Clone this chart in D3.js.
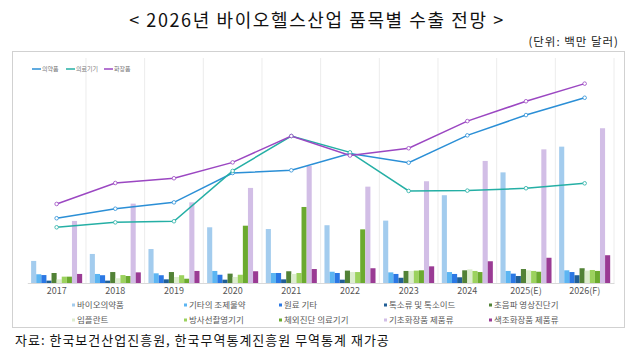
<!DOCTYPE html>
<html><head><meta charset="utf-8">
<script src="https://cdn.jsdelivr.net/npm/d3@7/dist/d3.min.js"></script>
<style>body{margin:0;background:#fff}svg{display:block}</style>
</head><body>
<svg id="chart" width="640" height="356"></svg>
<script>
// ---- data (백만 달러) ----
const years = ["2017","2018","2019","2020","2021","2022","2023","2024","2025(E)","2026(F)"];

const lineNames = ["의약품","의료기기","화장품"];
const pharma    = [4080, 4680, 5080, 6930, 7100, 8160, 7580, 9300, 10580, 11670];
const device    = [3510, 3820, 3890, 7060, 9260, 8230, 5800, 5820, 5970, 6280];
const cosmetics = [4980, 6300, 6600, 7600, 9260, 8030, 8490, 10200, 11450, 12560];

const barNames = ["바이오의약품","기타의 조제물약","원료 기타","톡소류 및 톡소이드","초음파 영상진단기",
                  "임플란트","방사선촬영기기","체외진단 의료기기","기초화장품 제품류","색조화장품 제품류"];
const biopharma  = [1390, 1830, 2140, 3510, 3400, 3640, 3930, 5530, 6970, 8590];
const otherPrep  = [550, 570, 610, 760, 630, 710, 670, 690, 760, 800];
const rawOther   = [500, 490, 490, 520, 630, 630, 570, 570, 590, 690];
const toxoid     = [150, 150, 230, 210, 230, 210, 330, 360, 440, 490];
const ultrasound = [630, 690, 690, 590, 740, 780, 760, 800, 880, 930];
const implant    = [230, 300, 380, 380, 570, 690, 760, 860, 800, 780];
const xray       = [400, 500, 490, 520, 630, 690, 780, 760, 760, 820];
const ivd        = [400, 440, 270, 3610, 4790, 3380, 800, 690, 710, 760];
const skincare   = [3910, 5000, 5080, 5990, 7370, 6070, 6410, 7690, 8420, 9750];
const makeup     = [570, 670, 760, 740, 880, 930, 1050, 1370, 1590, 1750];

const barValues = [biopharma, otherPrep, rawOther, toxoid, ultrasound, implant, xray, ivd, skincare, makeup];
const lineValues = [pharma, device, cosmetics];

// ---- styles ----
const barColors = ["#A3CCEE","#5CB5F2","#2B78E4","#215F96","#528236","#DDEDCF","#9CD25E","#6BAA2F","#D2BEE6","#9A3B94"];
const lineColors = ["#2B8FD6","#25AFA5","#9B47C2"];
const FONT = "'Noto Sans CJK KR','Noto Sans',sans-serif";

const svg = d3.select("#chart").style("font-family", FONT);

// title
svg.append("text").attr("x", 317).attr("y", 27).attr("text-anchor","middle")
  .attr("font-size", 18).attr("fill","#111").attr("letter-spacing", 1.6)
  .text("< 2026년 바이오헬스산업 품목별 수출 전망 >");
svg.append("text").attr("x", 619).attr("y", 46).attr("text-anchor","end")
  .attr("font-size", 11.5).attr("fill","#222").attr("letter-spacing", 1)
  .text("(단위: 백만 달러)");

// dotted frame
svg.append("rect").attr("x", 12.5).attr("y", 51.5).attr("width", 612).attr("height", 276)
  .attr("fill","none").attr("stroke","#8a8a8a").attr("stroke-width",0.8).attr("stroke-dasharray","1,1");

// scales
const baseY = 283;
const x = d3.scaleBand().domain(years).range([27.3, 614]).paddingInner(0.13).paddingOuter(0.065);
const xs = d3.scaleBand().domain(d3.range(barNames.length)).range([0, x.bandwidth()]);
const y = d3.scaleLinear().domain([0, 13000]).range([baseY, baseY - 13000/63]);

// vertical grid lines at band boundaries
const step = x.step();
svg.append("g").selectAll("line").data(d3.range(1, years.length + 1)).join("line")
  .attr("x1", i => 27.3 + i*step).attr("x2", i => 27.3 + i*step)
  .attr("y1", 58).attr("y2", baseY)
  .attr("stroke","#ECECEC").attr("stroke-width",1);

// bars
const gBars = svg.append("g");
years.forEach((yr, yi) => {
  gBars.append("g").attr("transform", `translate(${x(yr)},0)`)
    .selectAll("rect").data(barValues.map((s, si) => ({si, v: s[yi]}))).join("rect")
    .attr("x", d => xs(d.si)).attr("width", xs.bandwidth())
    .attr("y", d => y(d.v)).attr("height", d => baseY - y(d.v))
    .attr("fill", d => barColors[d.si]);
});

// x axis
const ax = svg.append("g").attr("transform", `translate(0,${baseY})`)
  .call(d3.axisBottom(x).tickSize(0).tickPadding(5));
ax.select(".domain").attr("stroke","#D9D9D9");
ax.selectAll("text").attr("font-size", 9).attr("fill","#555").attr("font-family", FONT);

// lines
const line = d3.line().x((d, i) => x(years[i]) + x.bandwidth()/2).y(d => y(d));
lineValues.forEach((vals, li) => {
  svg.append("path").datum(vals).attr("d", line).attr("fill","none")
    .attr("stroke", lineColors[li]).attr("stroke-width", 1.5);
});
lineValues.forEach((vals, li) => {
  svg.append("g").selectAll("circle").data(vals).join("circle")
    .attr("cx", (d, i) => x(years[i]) + x.bandwidth()/2).attr("cy", d => y(d))
    .attr("r", 1.8).attr("fill","#fff").attr("stroke", lineColors[li]).attr("stroke-width", 0.8);
});

// top legend (lines)
const topLeg = [32, 66, 104];
lineNames.forEach((n, i) => {
  const g = svg.append("g").attr("transform", `translate(${topLeg[i]},69)`);
  g.append("line").attr("x1",0).attr("x2",9).attr("y1",0).attr("y2",0)
    .attr("stroke", lineColors[i]).attr("stroke-width",1.5);
  g.append("text").attr("x", 10).attr("y", 2).attr("font-size", 6).attr("fill","#777").text(n);
});

// bottom legend (bars)
const colX = [72, 184, 279, 384, 489];
const rowY = [305, 320];
barNames.forEach((n, i) => {
  const g = svg.append("g").attr("transform", `translate(${colX[i % 5]},${rowY[Math.floor(i/5)]})`);
  g.append("rect").attr("x",0).attr("y",-1.5).attr("width",3).attr("height",3).attr("fill", barColors[i]);
  g.append("text").attr("x", 5).attr("y", 3).attr("font-size", 8.5).attr("fill","#595959").text(n);
});

// source
svg.append("text").attr("x", 15).attr("y", 345).attr("font-size", 13).attr("fill","#111")
  .attr("letter-spacing", 1)
  .text("자료: 한국보건산업진흥원, 한국무역통계진흥원 무역통계 재가공");
</script>
</body></html>
